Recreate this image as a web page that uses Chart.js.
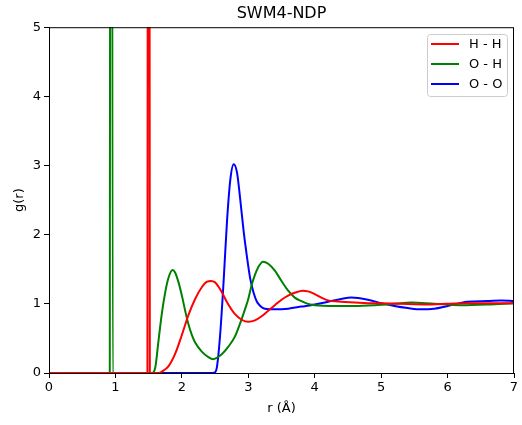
<!DOCTYPE html>
<html>
<head>
<meta charset="utf-8">
<script src="https://cdn.jsdelivr.net/npm/chart.js@4.4.1/dist/chart.umd.min.js"></script>
<style>
    html, body { margin: 0; padding: 0; background: #fff; }
    #wrap { width: 522px; height: 425px; }
</style>
</head>
<body>
<div id="wrap"><canvas id="rdf"></canvas></div>
<script>
// H - H
const hhR = [0, 1.482, 1.492, 1.5, 1.508, 1.518, 1.6, 1.65, 1.7, 1.8, 1.9, 2.0, 2.1, 2.2, 2.3, 2.38, 2.44, 2.5, 2.55, 2.6, 2.7, 2.8, 2.9, 3.0, 3.1, 3.2, 3.3, 3.4, 3.5, 3.6, 3.7, 3.82, 3.9, 4.0, 4.1, 4.2, 4.4, 4.6, 4.8, 5.0, 5.3, 5.7, 6.0, 6.3, 6.6, 7.0];
const hhG = [0, 0, 15, 40, 15, 0, 0, 0, 0.02, 0.1, 0.28, 0.55, 0.84, 1.07, 1.24, 1.32, 1.33, 1.31, 1.25, 1.17, 0.99, 0.85, 0.77, 0.74, 0.76, 0.82, 0.9, 0.98, 1.06, 1.12, 1.16, 1.19, 1.18, 1.14, 1.09, 1.05, 1.03, 1.02, 1.01, 1.01, 1.0, 0.99, 1.0, 1.01, 1.01, 1.01];

// O - H
const ohR = [0, 0.915, 0.927, 0.937, 0.947, 0.959, 1.5, 1.55, 1.6, 1.65, 1.7, 1.75, 1.8, 1.86, 1.9, 1.95, 2.0, 2.05, 2.1, 2.15, 2.2, 2.3, 2.4, 2.47, 2.6, 2.7, 2.8, 2.9, 2.95, 3.0, 3.05, 3.1, 3.15, 3.22, 3.3, 3.4, 3.5, 3.6, 3.7, 3.8, 3.9, 4.0, 4.3, 4.6, 4.9, 5.2, 5.45, 5.8, 6.2, 6.6, 7.0];
const ohG = [0, 0, 15, 40, 15, 0, 0, 0, 0.08, 0.48, 0.87, 1.17, 1.38, 1.49, 1.45, 1.31, 1.12, 0.9, 0.7, 0.55, 0.44, 0.31, 0.23, 0.2, 0.27, 0.38, 0.53, 0.78, 0.92, 1.07, 1.27, 1.42, 1.53, 1.61, 1.58, 1.48, 1.33, 1.19, 1.09, 1.04, 1.0, 0.98, 0.97, 0.97, 0.98, 1.0, 1.02, 1.0, 0.98, 0.99, 1.01];

// O - O
const ooR = [0, 2.46, 2.5, 2.53, 2.58, 2.63, 2.68, 2.73, 2.78, 2.83, 2.88, 2.93, 2.98, 3.03, 3.08, 3.13, 3.18, 3.25, 3.4, 3.6, 3.8, 4.0, 4.2, 4.4, 4.55, 4.8, 5.0, 5.2, 5.4, 5.6, 5.8, 6.0, 6.3, 6.6, 6.8, 7.0];
const ooG = [0, 0, 0.01, 0.1, 0.6, 1.35, 2.2, 2.8, 3.02, 2.9, 2.5, 2.05, 1.68, 1.36, 1.16, 1.03, 0.97, 0.93, 0.92, 0.93, 0.96, 0.99, 1.03, 1.07, 1.09, 1.06, 1.01, 0.97, 0.94, 0.92, 0.93, 0.97, 1.03, 1.04, 1.05, 1.04];

const xTicks = [0, 1, 2, 3, 4, 5, 6, 7];
const yTicks = [0, 1, 2, 3, 4, 5];

function pts(r, g) {
    return r.map((v, i) => ({ x: v, y: g[i] }));
}

// box round the plot and the legend inside it
const frameAndLegend = {
    id: "frameAndLegend",
    afterDraw(chart) {
        const ctx = chart.ctx;
        const a = chart.chartArea;
        ctx.save();
        ctx.strokeStyle = "#000";
        ctx.lineWidth = 1;
        ctx.strokeRect(a.left + 0.5, a.top + 0.5, a.right - a.left - 1, a.bottom - a.top);

        // legend
        const bx = 427.5, by = 34.5, bw = 80, bh = 62;
        ctx.fillStyle = "rgba(255,255,255,0.8)";
        ctx.strokeStyle = "#ccc";
        ctx.beginPath();
        ctx.roundRect(bx, by, bw, bh, 3);
        ctx.fill();
        ctx.stroke();
        ctx.font = "13px 'DejaVu Sans'";
        ctx.textBaseline = "middle";
        chart.data.datasets.forEach((ds, i) => {
            const y = 44 + i * 20;
            ctx.strokeStyle = ds.borderColor;
            ctx.lineWidth = 2;
            ctx.beginPath();
            ctx.moveTo(431, y);
            ctx.lineTo(459, y);
            ctx.stroke();
            ctx.fillStyle = "#000";
            ctx.fillText(ds.label, 469, y + 1);
        });
        ctx.restore();
    }
};

new Chart(document.getElementById("rdf"), {
    type: "line",
    data: {
        datasets: [
            { label: "H - H", data: pts(hhR, hhG), borderColor: "#ff0000" },
            { label: "O - H", data: pts(ohR, ohG), borderColor: "#008000" },
            { label: "O - O", data: pts(ooR, ooG), borderColor: "#0000ff" }
        ]
    },
    options: {
        responsive: true,
        maintainAspectRatio: false,
        animation: false,
        layout: { padding: { left: 0, right: 8, top: 0, bottom: 0 } },
        elements: {
            point: { radius: 0 },
            line: { borderWidth: 2, cubicInterpolationMode: "monotone" }
        },
        plugins: {
            legend: { display: false },
            tooltip: { enabled: false },
            title: {
                display: true,
                fullSize: false,
                text: "SWM4-NDP",
                color: "#000",
                font: { family: "'DejaVu Sans'", size: 16, weight: "normal" },
                padding: { top: 4, bottom: 4 }
            }
        },
        scales: {
            x: {
                type: "linear",
                min: 0,
                max: 7,
                afterBuildTicks: s => { s.ticks = xTicks.map(v => ({ value: v })); },
                afterFit: s => { s.height = 52; },
                grid: { drawOnChartArea: false, tickLength: 5, tickColor: "#000" },
                border: { color: "#000" },
                ticks: { color: "#000", padding: 2, maxRotation: 0, font: { family: "'DejaVu Sans'", size: 13 } },
                title: { display: true, text: "r (Å)", color: "#000", padding: { top: 3, bottom: 9 }, font: { family: "'DejaVu Sans'", size: 13 } }
            },
            y: {
                min: 0,
                max: 5,
                afterBuildTicks: s => { s.ticks = yTicks.map(v => ({ value: v })); },
                afterFit: s => { s.width = 49; },
                grid: { drawOnChartArea: false, tickLength: 5, tickColor: "#000" },
                border: { color: "#000" },
                ticks: { color: "#000", padding: 3, font: { family: "'DejaVu Sans'", size: 13 } },
                title: { display: true, text: "g(r)", color: "#000", padding: { top: 12, bottom: 4 }, font: { family: "'DejaVu Sans'", size: 13 } }
            }
        }
    },
    plugins: [frameAndLegend]
});
</script>
</body>
</html>
